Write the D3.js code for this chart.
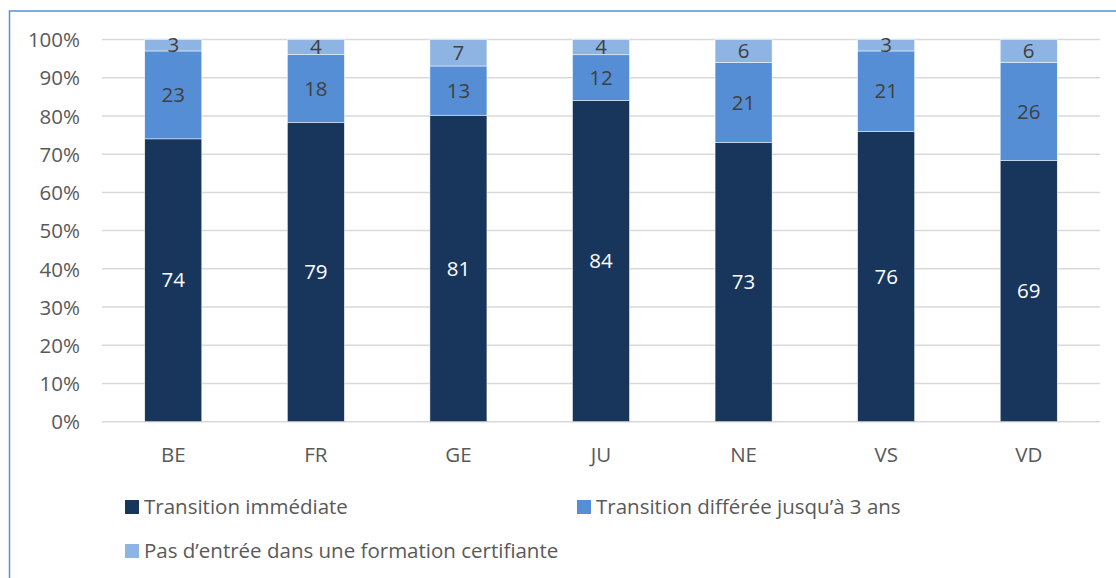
<!DOCTYPE html>
<html>
<head>
<meta charset="utf-8">
<script src="https://cdn.jsdelivr.net/npm/d3@7"></script>
<style>
	body { margin: 0; background: #fff; }
	svg text { font-family: "Open Sans", sans-serif; }
</style>
</head>
<body>
<div id="chart"></div>
<script>
const cantons = ["BE", "FR", "GE", "JU", "NE", "VS", "VD"];
const immediate = [74, 79, 81, 84, 73, 76, 69];
const deferred = [23, 18, 13, 12, 21, 21, 26];
const noEntry = [3, 4, 7, 4, 6, 3, 6];
const seriesNames = ["Transition immédiate", "Transition différée jusqu\u2019à 3 ans", "Pas d\u2019entrée dans une formation certifiante"];
const colors = ["#18365c", "#558ed5", "#8eb4e3"];
const yTickValues = [0, 0.1, 0.2, 0.3, 0.4, 0.5, 0.6, 0.7, 0.8, 0.9, 1];

const width = 1116, height = 578;
const plot = { left: 102, right: 1100, top: 39.5, bottom: 421.7 };

const svg = d3.select("#chart").append("svg")
	.attr("width", width)
	.attr("height", height);

// chart frame (only left and top edges visible)
svg.append("rect")
	.attr("x", 9.5).attr("y", 11)
	.attr("width", 1130).attr("height", 600)
	.attr("fill", "none")
	.attr("stroke", "#5b8fd3")
	.attr("stroke-width", 1.5);

const rows = cantons.map((c, i) => ({ canton: c, a: immediate[i], b: deferred[i], c: noEntry[i] }));
const stack = d3.stack().keys(["a", "b", "c"]).offset(d3.stackOffsetExpand);
const layers = stack(rows);

const xScale = d3.scaleBand().domain(cantons).range([plot.left, plot.right]).paddingInner(0.6).paddingOuter(0.3);
const yScale = d3.scaleLinear().domain([0, 1]).range([plot.bottom, plot.top]);

// grid lines
svg.append("g")
	.attr("class", "grid-lines")
	.selectAll("line")
	.data(yTickValues)
	.join("line")
	.attr("x1", plot.left)
	.attr("x2", plot.right)
	.attr("y1", (d) => yScale(d))
	.attr("y2", (d) => yScale(d))
	.attr("stroke", "#d9d9d9")
	.attr("stroke-width", 1.5);

// y axis labels
const yAxis = d3.axisLeft(yScale).tickValues(yTickValues).tickFormat(d3.format(".0%")).tickSize(0).tickPadding(0);
const yg = svg.append("g")
	.attr("transform", `translate(80,0)`)
	.call(yAxis);
yg.select(".domain").remove();
yg.selectAll("text")
	.attr("fill", "#595959")
	.attr("font-size", 20.5)
	.attr("dy", "0.35em");

// x axis labels
const xAxis = d3.axisBottom(xScale).tickSize(0).tickPadding(0);
const xg = svg.append("g")
	.attr("transform", `translate(0,${plot.bottom + 33})`)
	.call(xAxis);
xg.select(".domain").remove();
xg.selectAll("text")
	.attr("fill", "#595959")
	.attr("font-size", 20.5)
	.attr("dy", "0.35em")
	.attr("y", 0);

// bars
const layerG = svg.append("g")
	.selectAll("g")
	.data(layers)
	.join("g")
	.attr("fill", (d, i) => colors[i]);

layerG.selectAll("rect")
	.data((d) => d)
	.join("rect")
	.attr("x", (d) => xScale(d.data.canton))
	.attr("width", xScale.bandwidth())
	.attr("y", (d) => yScale(d[1]))
	.attr("height", (d) => yScale(d[0]) - yScale(d[1]))
	.attr("stroke", "#ffffff")
	.attr("stroke-width", 0.5);

// value labels
layerG.selectAll("text")
	.data((d) => d.map((p) => ({ p, key: d.key, idx: d.index })))
	.join("text")
	.attr("x", (d) => xScale(d.p.data.canton) + xScale.bandwidth() / 2)
	.attr("y", (d) => yScale((d.p[0] + d.p[1]) / 2))
	.attr("dy", "0.35em")
	.attr("text-anchor", "middle")
	.attr("font-size", 20.5)
	.attr("fill", (d) => d.idx === 0 ? "#ffffff" : "#404040")
	.text((d) => d.p.data[d.key]);

// legend
const legendItems = [
	{ name: seriesNames[0], color: colors[0], x: 125, y: 507 },
	{ name: seriesNames[1], color: colors[1], x: 577, y: 507 },
	{ name: seriesNames[2], color: colors[2], x: 125, y: 551 }
];
const lg = svg.append("g").selectAll("g")
	.data(legendItems)
	.join("g")
	.attr("transform", (d) => `translate(${d.x},${d.y})`);
lg.append("rect")
	.attr("x", 0).attr("y", -7)
	.attr("width", 14).attr("height", 14)
	.attr("fill", (d) => d.color);
lg.append("text")
	.attr("x", 19)
	.attr("dy", "0.35em")
	.attr("font-size", 20.5)
	.attr("fill", "#595959")
	.text((d) => d.name);
</script>
</body>
</html>
